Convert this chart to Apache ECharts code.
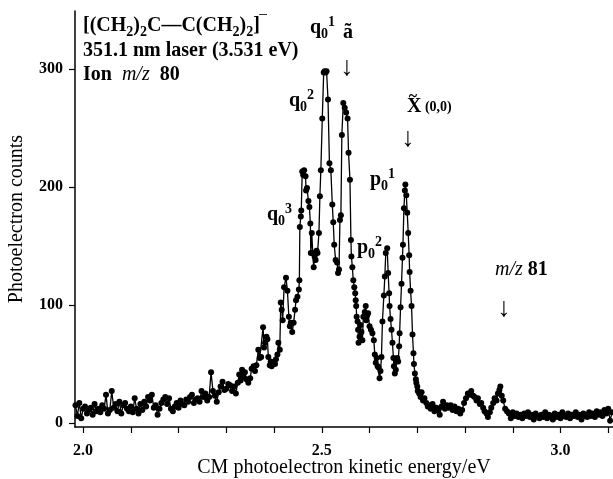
<!DOCTYPE html>
<html>
<head>
<meta charset="utf-8">
<script src="https://cdn.jsdelivr.net/npm/echarts@6/dist/echarts.min.js"></script>
<style>
  html, body { margin: 0; padding: 0; background: #fff; }
  #chart { width: 613px; height: 479px; }
</style>
</head>
<body>
<div id="chart"></div>
<script>
// spectrum, split into pieces (energy in eV, counts)
const lowEnergy = [1.984,1.988,1.992,1.996,2.000,2.004,2.008,2.012,2.016,2.020,2.024,2.028,2.032,2.036,2.040,2.044,2.048,2.052,2.056,2.060,2.064,2.068,2.072,2.076,2.080,2.084,2.088,2.092,2.096,2.100,2.104,2.108,2.112,2.116,2.120,2.124,2.128,2.132,2.136,2.140,2.144,2.148,2.152,2.156,2.160,2.164,2.168,2.172,2.176,2.180,2.184,2.188,2.192,2.196,2.200,2.204,2.208,2.212,2.216,2.220,2.224,2.228,2.232,2.236,2.240,2.244,2.248,2.252,2.256,2.260,2.264,2.268,2.272,2.276,2.280,2.284,2.288,2.292,2.296,2.300,2.304,2.308,2.312,2.316,2.320,2.324];
const lowCounts = [15,6,17,4,12,14,8,11,13,7,16,10,12,9,15,12,24,8,11,27,13,16,10,18,8,15,17,12,10,14,9,21,12,8,16,11,18,14,22,19,24,13,15,7,12,17,20,22,16,21,12,10,14,17,13,19,16,15,20,18,22,24,17,20,21,18,27,22,25,19,22,43,27,23,18,26,31,35,28,29,33,32,27,31,25,34];

const riseEnergy = [2.327,2.330,2.333,2.336,2.339,2.342,2.346,2.350,2.353,2.357,2.360,2.363,2.367,2.370,2.373,2.377,2.379,2.381,2.384,2.386,2.388,2.391,2.393,2.395,2.399,2.402,2.404,2.407,2.409,2.412,2.414,2.416,2.418,2.421,2.425,2.428,2.431,2.433,2.435,2.438,2.441,2.444,2.446,2.449,2.452];
const riseCounts = [41,36,45,39,43,37,34,38,46,48,44,49,62,55,56,81,64,68,73,71,56,49,52,48,51,50,54,58,68,62,102,96,87,115,123,112,90,82,85,77,85,96,104,107,113];

const peakEnergy = [2.453,2.454,2.456,2.457,2.459,2.461,2.463,2.466,2.467,2.469,2.472,2.474,2.476,2.477,2.479,2.481,2.483,2.485,2.487,2.489,2.491,2.494,2.496,2.498,2.501,2.504,2.506,2.508,2.510,2.513,2.516,2.519,2.522,2.524,2.526,2.529,2.532,2.534,2.536,2.538,2.540,2.542,2.545,2.548,2.551,2.554,2.556,2.559,2.561,2.562,2.564,2.566,2.568,2.570,2.571,2.572,2.573,2.575,2.576,2.577,2.579,2.581,2.583,2.585,2.587,2.590,2.592,2.593,2.595,2.597,2.600,2.603,2.606,2.609,2.611,2.613,2.615,2.617,2.619,2.621,2.623,2.625,2.627,2.630,2.632,2.634,2.637,2.639,2.641,2.642,2.644,2.646,2.648,2.650,2.651,2.653,2.655,2.656,2.658,2.660,2.662,2.663,2.665,2.667,2.669,2.670,2.672,2.674,2.675,2.677,2.679,2.681,2.683,2.684,2.686,2.688,2.690,2.692,2.693,2.695,2.697,2.698,2.700,2.701,2.704,2.707,2.709,2.712,2.715,2.719,2.722,2.725];
const peakCounts = [121,166,175,180,213,210,214,209,197,199,188,183,169,144,161,144,132,141,138,146,144,161,192,214,258,297,298,297,298,274,220,214,185,170,151,138,136,127,130,172,176,244,271,267,263,258,229,206,155,141,132,121,115,110,104,99,90,86,79,68,73,83,77,70,90,94,99,87,91,93,82,79,76,70,58,51,55,48,47,38,44,56,86,108,124,144,148,127,110,99,88,79,68,55,48,42,45,52,55,52,65,76,98,118,140,151,182,197,202,193,178,161,142,128,112,99,75,59,50,42,37,34,31,27,25,22,26,19,21,17,14,15];

const highEnergy = [2.728,2.732,2.736,2.740,2.744,2.747,2.751,2.754,2.758,2.762,2.766,2.770,2.774,2.778,2.782,2.786,2.790,2.794,2.798,2.802,2.806,2.810,2.813,2.817,2.820,2.824,2.827,2.831,2.834,2.838,2.841,2.845,2.848,2.852,2.855,2.859,2.862,2.866,2.869,2.872,2.874,2.877,2.880,2.884,2.888,2.892,2.896,2.900];
const highCounts = [12,16,10,13,11,7,14,18,12,15,13,15,11,14,10,12,8,11,17,21,25,24,27,23,22,19,21,16,17,13,10,8,5,9,13,17,21,19,25,28,31,23,19,12,10,8,4,9];

const tailEnergy = [2.904,2.908,2.912,2.916,2.920,2.924,2.928,2.932,2.936,2.940,2.944,2.948,2.952,2.956,2.960,2.964,2.968,2.972,2.976,2.980,2.984,2.988,2.992,2.996,3.000,3.004,3.008,3.012,3.016,3.020,3.024,3.028,3.032,3.036,3.040,3.044,3.048,3.052,3.056,3.060,3.064,3.068,3.072,3.076,3.080,3.084,3.088,3.092,3.096,3.100,3.104,3.108];
const tailCounts = [6,8,5,7,4,8,6,9,5,7,3,8,6,4,7,5,9,4,7,6,3,8,5,7,4,9,6,5,8,4,7,6,9,5,7,3,8,6,5,9,6,8,5,10,7,9,6,11,8,12,2,9];

const xTicks = [2.0,2.1,2.2,2.3,2.4,2.5,2.6,2.7,2.8,2.9,3.0,3.1];
const xLabels = [2.0,2.5,3.0];
const yTicks = [0,100,200,300];

const serif = '"Liberation Serif", "DejaVu Serif", serif';

const points = [];
[[lowEnergy, lowCounts], [riseEnergy, riseCounts], [peakEnergy, peakCounts],
 [highEnergy, highCounts], [tailEnergy, tailCounts]].forEach(function (seg) {
  seg[0].forEach(function (e, i) { points.push([e, seg[1][i]]); });
});

// rich text pieces for the labels
const rich = {
  b: { fontFamily: serif, fontSize: 20, fontWeight: 'bold', lineHeight: 26, verticalAlign: 'middle', fill: '#000' },
  i: { fontFamily: serif, fontSize: 20, fontStyle: 'italic', lineHeight: 26, verticalAlign: 'middle', fill: '#000' },
  s: { fontFamily: serif, fontSize: 14, fontWeight: 'bold', lineHeight: 14, verticalAlign: 'bottom', fill: '#000' },
  u: { fontFamily: serif, fontSize: 14, fontWeight: 'bold', lineHeight: 24, verticalAlign: 'top', fill: '#000' },
  m: { fontFamily: serif, fontSize: 14, fontWeight: 'bold', lineHeight: 26, verticalAlign: 'middle', fill: '#000' }
};

function label(x, y, text) {
  return {
    type: 'text', x: x, y: y, z: 10,
    style: { text: text, rich: rich, verticalAlign: 'top', align: 'left', fill: '#000' }
  };
}
function arrow(x, y) {
  return {
    type: 'text', x: x, y: y, z: 10,
    style: { text: '\u2193', font: '27px ' + serif, fill: '#000', align: 'center', verticalAlign: 'middle' }
  };
}

const chart = echarts.init(document.getElementById('chart'));
chart.setOption({
  animation: false,
  backgroundColor: '#fff',
  grid: { left: 75, right: 0, top: 11, bottom: 52, outerBoundsMode: 'none', containLabel: false },
  xAxis: {
    type: 'value', min: 1.983, max: 3.110,
    name: 'CM photoelectron kinetic energy/eV',
    nameLocation: 'middle', nameGap: 31, nameMoveOverlap: false,
    nameTextStyle: { fontFamily: serif, fontSize: 20, color: '#000' },
    axisLine: { show: true, onZero: false, lineStyle: { color: '#000', width: 1.5 } },
    axisTick: { show: true, length: 6, customValues: xTicks, lineStyle: { color: '#000', width: 1.2 } },
    axisLabel: {
      customValues: xLabels, margin: 16, color: '#000',
      fontFamily: serif, fontSize: 16, fontWeight: 'bold',
      formatter: function (v) { return v.toFixed(1); }
    },
    splitLine: { show: false }
  },
  yAxis: {
    type: 'value', min: -3.4, max: 349,
    name: 'Photoelectron counts',
    nameLocation: 'middle', nameGap: 48, nameMoveOverlap: false,
    nameTextStyle: { fontFamily: serif, fontSize: 20, color: '#000' },
    axisLine: { show: true, onZero: false, lineStyle: { color: '#000', width: 1.5 } },
    axisTick: { show: true, length: 6, customValues: yTicks, lineStyle: { color: '#000', width: 1.2 } },
    axisLabel: {
      customValues: yTicks, margin: 12, color: '#000',
      fontFamily: serif, fontSize: 16, fontWeight: 'bold'
    },
    splitLine: { show: false }
  },
  series: [{
    type: 'line',
    data: points,
    showAllSymbol: true,
    symbol: 'circle',
    symbolSize: 6,
    itemStyle: { color: '#000' },
    lineStyle: { color: '#000', width: 1.3 },
    silent: true
  }],
  graphic: [
    label(83, 13, '{b|[(CH}{s|2}{b|)}{s|2}{b|C\u2014C(CH}{s|2}{b|)}{s|2}{b|]\u203e}'),
    label(83, 38, '{b|351.1 nm laser (3.531 eV)}'),
    label(83, 62, '{b|Ion  }{i|m/z}{b|  80}'),
    label(267, 202, '{b|q}{s|0}{u|3}'),
    label(289, 88, '{b|q}{s|0}{u|2}'),
    label(310, 15, '{b|q}{s|0}{u|1}'),
    label(343, 20, '{b|\u00e3}'),
    arrow(347, 68),
    label(370, 167, '{b|p}{s|0}{u|1}'),
    label(357, 235, '{b|p}{s|0}{u|2}'),
    label(407, 94, '{b|X}{m| (0,0)}'),
    { type: 'text', x: 413, y: 97, z: 10,
      style: { text: '~', font: 'bold 16px ' + serif, fill: '#000', align: 'center', verticalAlign: 'middle' } },
    arrow(408, 139),
    label(495, 257, '{i|m/z}{b| 81}'),
    arrow(504, 309)
  ]
});
</script>
</body>
</html>
